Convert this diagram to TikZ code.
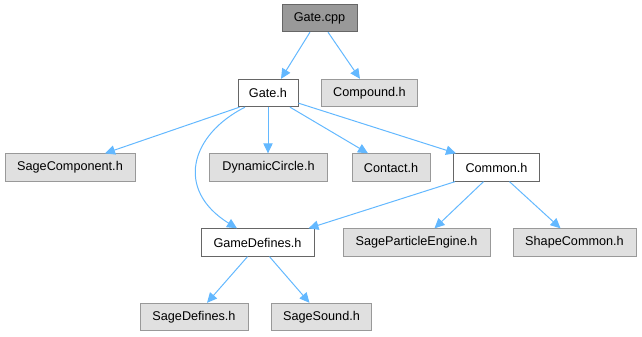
\documentclass[tikz,border=0pt]{standalone}
\usepackage{fontspec}
\setmainfont{Liberation Sans}
\usetikzlibrary{arrows.meta,calc}
\definecolor{edgeblue}{HTML}{63B8FF}
\definecolor{boxgray}{HTML}{E0E0E0}
\definecolor{bordergray}{HTML}{999999}
\definecolor{borderdark}{HTML}{666666}
\definecolor{rootfill}{HTML}{999999}
\begin{document}
\begin{tikzpicture}[x=0.75pt,y=-0.75pt,
  file/.style={draw,line width=0.75pt,rectangle,inner sep=0pt,
    minimum height=20.5pt,font=\fontsize{9.5pt}{11pt}\selectfont,text=black},
  extfile/.style={file,fill=boxgray,draw=bordergray},
  localfile/.style={file,fill=white,draw=borderdark},
  rootfile/.style={file,fill=rootfill,draw=borderdark},
  dep/.style={draw=edgeblue,line width=0.75pt,
    -{Triangle[length=7.5pt,width=7pt,fill=edgeblue]}}]
\useasboundingbox (0,0) rectangle (642,336);

% include tree nodes
\node[rootfile,minimum width=56.25pt]  (gatecpp)  at (319.5,18)  {Gate.cpp};
\node[localfile,minimum width=45pt]    (gateh)    at (268,93)    {Gate.h};
\node[extfile,minimum width=72pt]      (compound) at (369.5,93)  {Compound.h};
\node[extfile,minimum width=97.5pt]    (sagecomp) at (70,167.5)  {SageComponent.h};
\node[extfile,minimum width=88.5pt]    (dyncirc)  at (268.5,167.5) {DynamicCircle.h};
\node[extfile,minimum width=58.5pt]    (contact)  at (391,167.5) {Contact.h};
\node[localfile,minimum width=64.5pt]  (common)   at (496.5,167.5) {Common.h};
\node[localfile,minimum width=84.75pt] (gamedef)  at (257.5,242.5) {GameDefines.h};
\node[extfile,minimum width=110.25pt]  (particle) at (416.5,242.5) {SageParticleEngine.h};
\node[extfile,minimum width=92.25pt]   (shapecom) at (574.5,242.5) {ShapeCommon.h};
\node[extfile,minimum width=81pt]      (sagedef)  at (194,317)   {SageDefines.h};
\node[extfile,minimum width=75pt]      (sagesnd)  at (321.5,317) {SageSound.h};

% include edges
\draw[dep] ($(gatecpp.south)+(-9.5,0)$) -- ($(gateh.north)+(13,0)$);
\draw[dep] ($(gatecpp.south)+(8.5,0)$) -- ($(compound.north)+(-9.5,0)$);
\draw[dep] ($(gateh.south west)+(2,0)$) -- ($(sagecomp.north)+(35,0)$);
\draw[dep] (gateh.south) -- (gateh.south |- dyncirc.north);
\draw[dep] ($(gateh.south)+(22,0)$) -- ($(contact.north)+(-23,0)$);
\draw[dep] ($(gateh.south east)+(0,-4)$) -- ($(common.north west)+(3,0)$);
\draw[dep] ($(gateh.south)+(-23,0)$) .. controls (190,135) and (175,190) .. ($(gamedef.north)+(-20.5,0)$);
\draw[dep] ($(common.south west)+(2,0)$) -- ($(gamedef.north east)+(-6,0)$);
\draw[dep] ($(common.south)+(-13,0)$) -- ($(particle.north)+(18,0)$);
\draw[dep] ($(common.south)+(13,0)$) -- ($(shapecom.north)+(-14,0)$);
\draw[dep] ($(gamedef.south)+(-10,0)$) -- ($(sagedef.north)+(13,0)$);
\draw[dep] ($(gamedef.south)+(12,0)$) -- ($(sagesnd.north)+(-12,0)$);
\end{tikzpicture}
\end{document}
